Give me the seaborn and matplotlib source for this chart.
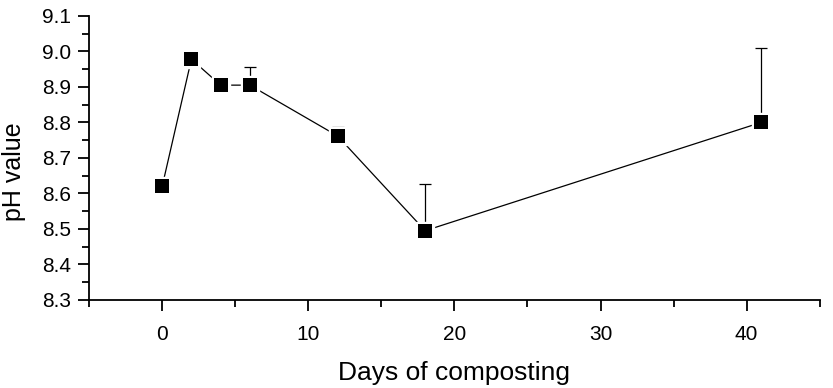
import numpy as np
import pandas as pd
import matplotlib
matplotlib.use('Agg')
import matplotlib.pyplot as plt
import seaborn as sns

# values
days = [0, 2, 4, 6, 12, 18, 41]
ph = [8.62, 8.978, 8.905, 8.905, 8.762, 8.495, 8.800]
ph_err = [0.0, 0.015, 0.0, 0.05, 0.025, 0.132, 0.21]

df = pd.DataFrame({'day': days, 'ph': ph, 'err': ph_err})

sns.set_style('ticks')
plt.rcParams['font.family'] = ['Liberation Sans', 'DejaVu Sans']

fig = plt.figure(figsize=(8.33, 3.88), dpi=100)
ax = fig.add_axes([0.107, 0.227, 0.877, 0.732])

# upper-only error bars
ax.errorbar(df['day'], df['ph'], yerr=[np.zeros(len(df)), df['err']],
            fmt='none', ecolor='black', elinewidth=0.9, capsize=4.3, capthick=0.9, zorder=1)
sns.lineplot(data=df, x='day', y='ph', color='black', linewidth=0.9, ax=ax, zorder=2)
# white halo so the line stops short of each marker
ax.plot(df['day'], df['ph'], linestyle='none', marker='s', markersize=13.5,
        markerfacecolor='white', markeredgecolor='white', zorder=3)
sns.scatterplot(data=df, x='day', y='ph', marker='s', s=95, color='black',
                edgecolor='black', linewidth=0, ax=ax, zorder=4)

ax.set_xlim(-5, 45)
ax.set_ylim(8.3, 9.1)
ax.set_xticks([0, 10, 20, 30, 40])
ax.set_xticks(np.arange(-5, 46, 5), minor=True)
ax.set_yticks(np.arange(8.3, 9.11, 0.1))
ax.set_yticks(np.arange(8.3, 9.11, 0.05), minor=True)
ax.yaxis.set_major_formatter(matplotlib.ticker.FormatStrFormatter('%.1f'))

sns.despine(ax=ax)
for s in ['left', 'bottom']:
    ax.spines[s].set_linewidth(1.3)
    ax.spines[s].set_color('black')
ax.tick_params(which='major', length=8, width=1.3, labelsize=15, colors='black', pad=5)
ax.tick_params(which='minor', length=5, width=1.3, colors='black')
ax.tick_params(axis='x', which='major', pad=10)

ax.set_xlabel('Days of composting', fontsize=19, color='black')
ax.set_ylabel('pH value', fontsize=18, color='black')
ax.xaxis.set_label_coords(0.5, -0.215)
ax.yaxis.set_label_coords(-0.086, 0.45)

fig.savefig('out.png', dpi=100)
